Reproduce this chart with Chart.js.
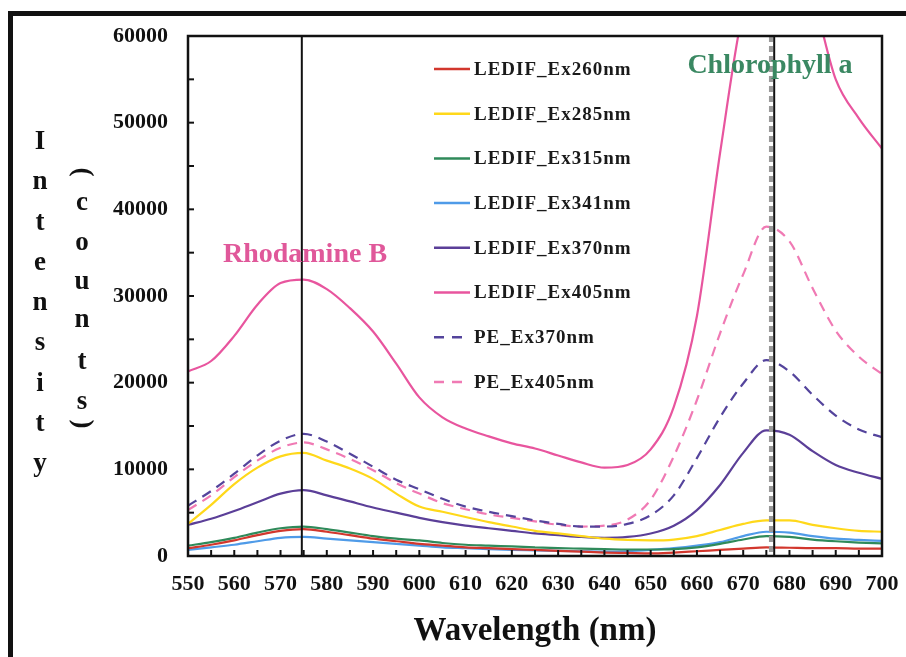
<!DOCTYPE html>
<html>
<head>
<meta charset="utf-8">
<script src="https://cdn.jsdelivr.net/npm/chart.js@4.4.1/dist/chart.umd.min.js"></script>
<style>
  html, body { margin: 0; padding: 0; background: #fff; }
</style>
</head>
<body>
<canvas id="myChart" width="906" height="657"></canvas>
<script>
// wavelength grid (nm)
const wavelengths = [550, 555, 560, 565, 570, 575, 580, 585, 590, 595, 600, 605, 610, 615, 620, 625,
    630, 635, 640, 645, 650, 655, 660, 665, 670, 675, 680, 685, 690, 695, 700];

const seriesNames = ['LEDIF_Ex260nm', 'LEDIF_Ex285nm', 'LEDIF_Ex315nm', 'LEDIF_Ex341nm',
    'LEDIF_Ex370nm', 'LEDIF_Ex405nm', 'PE_Ex370nm', 'PE_Ex405nm'];

const ledif260 = [900, 1300, 1800, 2400, 2900, 3100, 2800, 2400, 2000, 1700, 1400, 1200, 1000, 900, 800, 700,
    600, 500, 400, 350, 300, 400, 550, 700, 850, 1000, 950, 900, 900, 850, 850];
const ledif285 = [3700, 5900, 8300, 10200, 11500, 11900, 11000, 10100, 8900, 7200, 5700, 5100, 4500, 3900, 3400, 2900,
    2600, 2300, 2000, 1850, 1800, 1900, 2300, 3000, 3700, 4100, 4100, 3600, 3200, 2900, 2800];
const ledif315 = [1200, 1600, 2100, 2700, 3200, 3400, 3100, 2700, 2300, 2000, 1800, 1500, 1300, 1200, 1100, 1000,
    900, 850, 800, 750, 750, 800, 1000, 1400, 1900, 2300, 2200, 1900, 1700, 1550, 1450];
const ledif341 = [700, 1000, 1300, 1700, 2100, 2200, 2000, 1800, 1600, 1400, 1200, 1000, 900, 800, 700, 650,
    600, 550, 500, 550, 700, 900, 1200, 1600, 2300, 2800, 2700, 2300, 2000, 1850, 1750];
const ledif370 = [3600, 4300, 5200, 6200, 7200, 7600, 7000, 6300, 5600, 5000, 4400, 3900, 3500, 3200, 2900, 2600,
    2400, 2200, 2100, 2200, 2600, 3500, 5300, 8200, 11900, 14500, 14000, 12100, 10500, 9600, 8900];
const ledif405 = [21300, 22500, 25400, 29000, 31500, 31900, 30800, 28600, 25900, 22200, 18300, 16000, 14700, 13800, 13000, 12400,
    11600, 10800, 10200, 10500, 12300, 17200, 27700, 46500, 63000, 70000, 69000, 64500, 55000, 50500, 47000];
const pe370 = [5800, 7500, 9500, 11600, 13300, 14100, 13200, 11800, 10300, 8800, 7700, 6600, 5700, 5100, 4600, 4100,
    3700, 3400, 3400, 3700, 4700, 7000, 11300, 16000, 19900, 22600, 21300, 18600, 16200, 14600, 13700];
const pe405 = [5300, 7000, 9100, 11000, 12500, 13100, 12300, 11200, 9900, 8400, 7200, 6100, 5400, 4800, 4400, 4000,
    3600, 3400, 3500, 4200, 6500, 11500, 18000, 25700, 32500, 38000, 36300, 30900, 26000, 23000, 21000];

const seriesValues = [ledif260, ledif285, ledif315, ledif341, ledif370, ledif405, pe370, pe405];
const seriesColors = ['#d2372d', '#ffd81a', '#2f8a5a', '#4f9be8', '#5b3f98', '#e8559e', '#54449c', '#f07ab4'];
const seriesDashed = [false, false, false, false, false, false, true, true];

// peak markers (nm)
const rhodaminePeak = 574.6;
const chloroPeakPE = 676.0;
const chloroPeak = 676.7;

const serif = "'Liberation Serif', 'Times New Roman', serif";

const datasets = seriesNames.map((name, i) => ({
    label: name,
    data: wavelengths.map((w, j) => ({ x: w, y: seriesValues[i][j] })),
    borderColor: seriesColors[i],
    borderWidth: 2.2,
    borderDash: seriesDashed[i] ? [10, 7] : [],
    pointRadius: 0,
    fill: false,
    cubicInterpolationMode: 'monotone'
}));

function line(ctx, x1, y1, x2, y2) {
    ctx.beginPath();
    ctx.moveTo(x1, y1);
    ctx.lineTo(x2, y2);
    ctx.stroke();
}

const decor = {
    id: 'decor',
    beforeDraw(chart) {
        const ctx = chart.ctx;
        ctx.save();
        ctx.fillStyle = '#fff';
        ctx.fillRect(0, 0, chart.width, chart.height);
        // outer frame (only left and top visible)
        ctx.fillStyle = '#111';
        ctx.fillRect(8, 11, chart.width - 8, 5);
        ctx.fillRect(8, 11, 5, chart.height - 11);
        ctx.restore();
    },
    afterDatasetsDraw(chart) {
        const ctx = chart.ctx;
        const a = chart.chartArea;
        const x = chart.scales.x, y = chart.scales.y;
        ctx.save();

        // peak marker lines
        ctx.strokeStyle = '#999';
        ctx.lineWidth = 4;
        ctx.setLineDash([6, 4]);
        const pxPE = x.getPixelForValue(chloroPeakPE);
        line(ctx, pxPE, a.top, pxPE, a.bottom);
        ctx.setLineDash([]);
        ctx.strokeStyle = '#111';
        ctx.lineWidth = 2;
        [rhodaminePeak, chloroPeak].forEach(v => {
            const px = x.getPixelForValue(v);
            line(ctx, px, a.top, px, a.bottom);
        });

        // plot frame
        ctx.lineWidth = 2.5;
        ctx.strokeRect(a.left, a.top, a.right - a.left, a.bottom - a.top);

        // inward tick marks
        ctx.lineWidth = 2;
        x.ticks.forEach(t => {
            const px = x.getPixelForValue(t.value);
            line(ctx, px, a.bottom, px, a.bottom - 6);
        });
        y.ticks.forEach(t => {
            const py = y.getPixelForValue(t.value);
            line(ctx, a.left, py, a.left + 6, py);
        });

        // annotations
        ctx.textAlign = 'center';
        ctx.textBaseline = 'middle';
        ctx.font = 'bold 28px ' + serif;
        ctx.fillStyle = '#e0589a';
        ctx.fillText('Rhodamine B', 305, 255);
        ctx.fillStyle = '#3a8862';
        ctx.fillText('Chlorophyll a', 770, 66);

        // legend
        ctx.textAlign = 'left';
        ctx.font = 'bold 19px ' + serif;
        ctx.letterSpacing = '1px';
        datasets.forEach((ds, i) => {
            const ry = 69 + i * 44.7;
            ctx.strokeStyle = ds.borderColor;
            ctx.lineWidth = 2.5;
            ctx.setLineDash(seriesDashed[i] ? [10, 8] : []);
            line(ctx, 434, ry, 470, ry);
            ctx.setLineDash([]);
            ctx.fillStyle = '#1a1a1a';
            ctx.fillText(ds.label, 474, ry + 1);
        });
        ctx.letterSpacing = '0px';

        // axis titles
        ctx.fillStyle = '#111';
        ctx.textAlign = 'center';
        ctx.font = 'bold 33px ' + serif;
        ctx.fillText('Wavelength (nm)', 535, 631);

        ctx.font = 'bold 27px ' + serif;
        'Intensity'.split('').forEach((ch, i) => {
            ctx.fillText(ch, 40, 142 + i * 40.3);
        });
        const counts = ['(', 'c', 'o', 'u', 'n', 't', 's', ')'];
        const countsY = [172, 203, 243, 282, 320, 362, 402, 424];
        counts.forEach((ch, i) => {
            if (ch === '(' || ch === ')') {
                ctx.save();
                ctx.translate(82, countsY[i]);
                ctx.rotate(Math.PI / 2);
                ctx.fillText(ch, 0, 0);
                ctx.restore();
            } else {
                ctx.fillText(ch, 82, countsY[i]);
            }
        });
        ctx.restore();
    }
};

const ctx = document.getElementById('myChart').getContext('2d');
new Chart(ctx, {
    type: 'line',
    data: { datasets: datasets },
    plugins: [decor],
    options: {
        responsive: false,
        animation: false,
        layout: { padding: { left: 0, right: 24, top: 36, bottom: 0 } },
        plugins: {
            legend: { display: false },
            tooltip: { enabled: false }
        },
        scales: {
            x: {
                type: 'linear',
                min: 550,
                max: 700,
                afterFit(s) { s.height = 101; s.paddingLeft = 0; s.paddingRight = 0; },
                grid: { display: false, drawTicks: false },
                border: { display: false },
                ticks: {
                    stepSize: 5,
                    autoSkip: false,
                    maxRotation: 0,
                    padding: 15,
                    color: '#111',
                    font: { family: serif, size: 22, weight: 'bold' },
                    callback: v => (v % 10 === 0 ? v : '')
                }
            },
            y: {
                min: 0,
                max: 60000,
                afterFit(s) { s.width = 188; s.paddingTop = 0; s.paddingBottom = 0; },
                grid: { display: false, drawTicks: false },
                border: { display: false },
                ticks: {
                    stepSize: 5000,
                    autoSkip: false,
                    padding: 20,
                    color: '#111',
                    font: { family: serif, size: 22, weight: 'bold' },
                    callback: v => (v % 10000 === 0 ? v : '')
                }
            }
        }
    }
});
</script>
</body>
</html>
